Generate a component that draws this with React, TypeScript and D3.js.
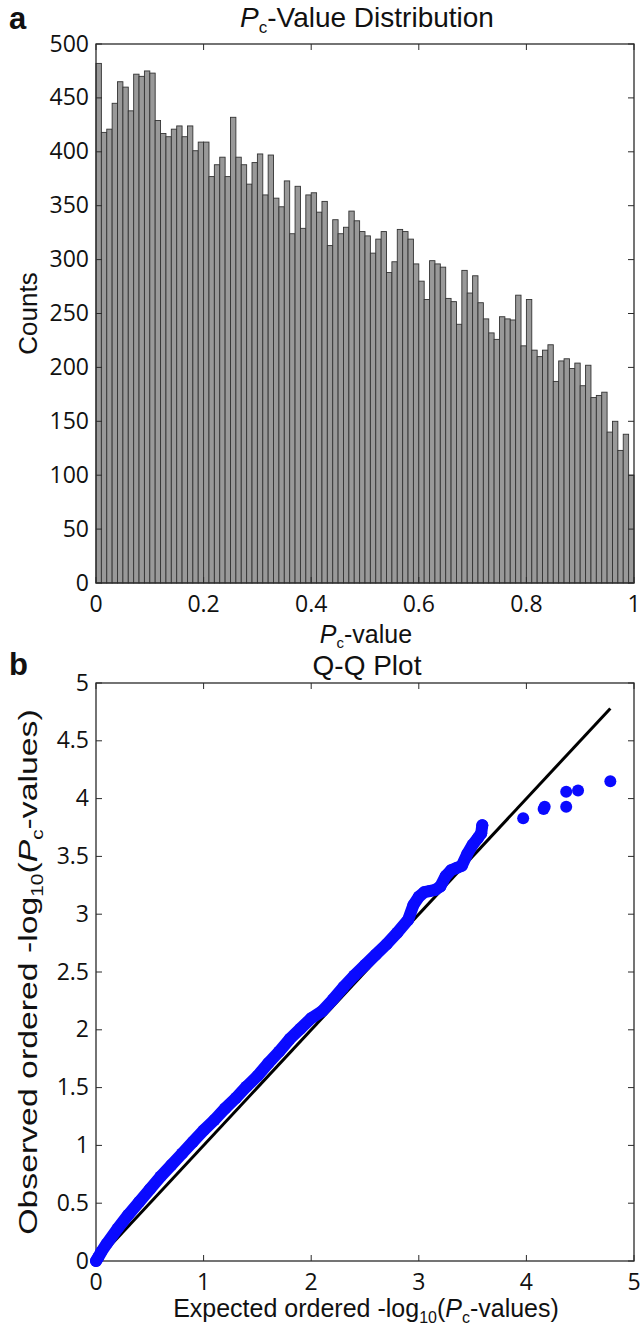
import React from 'react';
import * as d3 from 'd3';

// ---------- DATA ----------
const binCounts = [
  482, 418, 421, 445, 465, 460, 438, 472, 470, 475,
  473, 429, 417, 414, 421, 424, 414, 424, 401, 409,
  409, 377, 388, 395, 377, 432, 395, 388, 370, 390,
  398, 360, 397, 357, 349, 373, 324, 368, 329, 360,
  362, 344, 354, 313, 337, 324, 330, 345, 336, 326,
  322, 306, 319, 326, 288, 298, 328, 326, 319, 296,
  280, 263, 299, 296, 293, 264, 261, 240, 290, 269,
  285, 260, 245, 232, 226, 247, 245, 244, 267, 220,
  263, 216, 210, 216, 221, 187, 206, 208, 199, 204,
  183, 202, 172, 174, 177, 140, 150, 123, 138, 100,
];
const histYTicks = [0, 50, 100, 150, 200, 250, 300, 350, 400, 450, 500];
const histXTicks = [0, 0.2, 0.4, 0.6, 0.8, 1];
const histXLabels = ['0', '0.2', '0.4', '0.6', '0.8', '1'];

const qqExpected = [
  0, 0.02, 0.05, 0.1, 0.2, 0.3, 0.4, 0.5, 0.6, 0.7, 0.8, 0.9, 1.0,
  1.1, 1.2, 1.3, 1.4, 1.5, 1.6, 1.7, 1.8, 1.9, 2.0, 2.1, 2.2, 2.3,
  2.4, 2.5, 2.6, 2.7, 2.8, 2.9, 2.95, 3.0, 3.05, 3.1, 3.15, 3.2,
  3.25, 3.3, 3.35, 3.4, 3.45, 3.5, 3.55, 3.58, 3.59,
];
const qqObserved = [
  0, 0.03, 0.08, 0.15, 0.28, 0.4, 0.51, 0.62, 0.73, 0.83, 0.93, 1.03, 1.13,
  1.22, 1.32, 1.41, 1.51, 1.6, 1.71, 1.81, 1.92, 2.01, 2.1, 2.16, 2.26, 2.37,
  2.47, 2.56, 2.65, 2.74, 2.84, 2.95, 3.08, 3.15, 3.19, 3.2, 3.21, 3.24,
  3.33, 3.38, 3.4, 3.42, 3.52, 3.6, 3.66, 3.7, 3.77,
];
const qqTailExpected = [3.97, 4.16, 4.17, 4.37, 4.37, 4.48, 4.78];
const qqTailObserved = [3.83, 3.91, 3.93, 3.93, 4.06, 4.07, 4.15];
const refLineEnd = 4.78;
const qqYTicks = [0, 0.5, 1, 1.5, 2, 2.5, 3, 3.5, 4, 4.5, 5];
const qqYLabels = ['0', '0.5', '1', '1.5', '2', '2.5', '3', '3.5', '4', '4.5', '5'];
const qqXTicks = [0, 1, 2, 3, 4, 5];

// ---------- LAYOUT ----------
const W = 644;
const H = 1326;
const hL = 96, hR = 634, hT = 44, hB = 583;
const qL = 96, qR = 634, qT = 683, qB = 1261;
const TICK = 6;
const tickFont = '"Open Sans", sans-serif';
const labelFont = '"Liberation Sans", Arial, sans-serif';
const axisColor = '#2a2a2a';
const TICK_FS = 23;
const LABEL_FS = 25;
const TITLE_FS = 28;

export default function App() {
  const x1 = d3.scaleLinear().domain([0, 1]).range([hL, hR]);
  const y1 = d3.scaleLinear().domain([0, 500]).range([hB, hT]);
  const n = binCounts.length;

  const x2 = d3.scaleLinear().domain([0, 5]).range([qL, qR]);
  const y2 = d3.scaleLinear().domain([0, 5]).range([qB, qT]);

  const bandPts: [number, number][] = qqExpected.map((e, i) => [e, qqObserved[i]]);
  const bandLine = d3
    .line<[number, number]>()
    .x((d) => x2(d[0]))
    .y((d) => y2(d[1]))
    .curve(d3.curveLinear);

  return (
    <div style={{ position: 'absolute', left: 0, top: 0 }}>
      <svg width={W} height={H} viewBox={`0 0 ${W} ${H}`} style={{ display: 'block', background: '#fff' }}>
        {/* ===== Panel a ===== */}
        <text x={9} y={29} fontFamily={labelFont} fontWeight="bold" fontSize={31} fill="#111">a</text>
        <text x={367} y={27} textAnchor="middle" fontFamily={labelFont} fontSize={TITLE_FS} fill="#111">
          <tspan fontStyle="italic">P</tspan>
          <tspan fontSize={17} dy={6}>c</tspan>
          <tspan dy={-6}>-Value Distribution</tspan>
        </text>

        {binCounts.map((c, i) => (
          <rect
            key={i}
            x={x1(i / n)}
            y={y1(c)}
            width={x1((i + 1) / n) - x1(i / n)}
            height={y1(0) - y1(c)}
            fill="#999999"
            stroke="#333333"
            strokeWidth={0.9}
          />
        ))}

        <rect x={hL} y={hT} width={hR - hL} height={hB - hT} fill="none" stroke={axisColor} strokeWidth={1.3} />
        {histYTicks.map((t) => (
          <g key={'hy' + t}>
            <line x1={hL} x2={hL + TICK} y1={y1(t)} y2={y1(t)} stroke={axisColor} strokeWidth={1} />
            <line x1={hR} x2={hR - TICK} y1={y1(t)} y2={y1(t)} stroke={axisColor} strokeWidth={1} />
            <text x={hL - 7} y={y1(t)} dy="0.33em" textAnchor="end" fontFamily={tickFont} fontSize={TICK_FS} fill="#111">
              {t}
            </text>
          </g>
        ))}
        {histXTicks.map((t, i) => (
          <g key={'hx' + t}>
            <line x1={x1(t)} x2={x1(t)} y1={hB} y2={hB - TICK} stroke={axisColor} strokeWidth={1} />
            <line x1={x1(t)} x2={x1(t)} y1={hT} y2={hT + TICK} stroke={axisColor} strokeWidth={1} />
            <text x={x1(t)} y={hB + 29} textAnchor="middle" fontFamily={tickFont} fontSize={TICK_FS} fill="#111">
              {histXLabels[i]}
            </text>
          </g>
        ))}
        <text x={366} y={643} textAnchor="middle" fontFamily={labelFont} fontSize={LABEL_FS} fill="#111">
          <tspan fontStyle="italic">P</tspan>
          <tspan fontSize={15} dy={5}>c</tspan>
          <tspan dy={-5}>-value</tspan>
        </text>
        <text
          transform={`translate(37, ${(hT + hB) / 2}) rotate(-90)`}
          textAnchor="middle"
          fontFamily={labelFont}
          fontSize={26}
          fill="#111"
        >
          Counts
        </text>

        {/* ===== Panel b ===== */}
        <text x={9} y={675} fontFamily={labelFont} fontWeight="bold" fontSize={31} fill="#111">b</text>
        <text x={367} y={675} textAnchor="middle" fontFamily={labelFont} fontSize={TITLE_FS} fill="#111">Q-Q Plot</text>

        <rect x={qL} y={qT} width={qR - qL} height={qB - qT} fill="none" stroke={axisColor} strokeWidth={1.3} />
        {qqYTicks.map((t, i) => (
          <g key={'qy' + t}>
            <line x1={qL} x2={qL + TICK} y1={y2(t)} y2={y2(t)} stroke={axisColor} strokeWidth={1} />
            <line x1={qR} x2={qR - TICK} y1={y2(t)} y2={y2(t)} stroke={axisColor} strokeWidth={1} />
            <text x={qL - 7} y={y2(t)} dy="0.33em" textAnchor="end" fontFamily={tickFont} fontSize={TICK_FS} fill="#111">
              {qqYLabels[i]}
            </text>
          </g>
        ))}
        {qqXTicks.map((t) => (
          <g key={'qx' + t}>
            <line x1={x2(t)} x2={x2(t)} y1={qB} y2={qB - TICK} stroke={axisColor} strokeWidth={1} />
            <line x1={x2(t)} x2={x2(t)} y1={qT} y2={qT + TICK} stroke={axisColor} strokeWidth={1} />
            <text x={x2(t)} y={qB + 29} textAnchor="middle" fontFamily={tickFont} fontSize={TICK_FS} fill="#111">
              {t}
            </text>
          </g>
        ))}

        {/* reference line */}
        <line
          x1={x2(0)}
          y1={y2(0)}
          x2={x2(refLineEnd)}
          y2={y2(refLineEnd)}
          stroke="#000"
          strokeWidth={3}
        />

        {/* dense band of points */}
        <path d={bandLine(bandPts) || ''} fill="none" stroke="#0a0aff" strokeWidth={12} strokeLinejoin="round" strokeLinecap="round" />
        {bandPts.map((d, i) => (
          <circle key={'b' + i} cx={x2(d[0])} cy={y2(d[1])} r={6} fill="#0a0aff" />
        ))}
        {qqTailExpected.map((e, i) => (
          <circle key={'t' + i} cx={x2(e)} cy={y2(qqTailObserved[i])} r={6} fill="#0a0aff" />
        ))}

        <text x={366} y={1317} textAnchor="middle" fontFamily={labelFont} fontSize={LABEL_FS} fill="#111">
          Expected ordered -log
          <tspan fontSize={16} dy={6}>10</tspan>
          <tspan dy={-6}>(</tspan>
          <tspan fontStyle="italic">P</tspan>
          <tspan fontSize={16} dy={6}>c</tspan>
          <tspan dy={-6}>-values)</tspan>
        </text>
        <text
          transform={`translate(37, ${(qT + qB) / 2}) rotate(-90) scale(1.3, 1)`}
          textAnchor="middle"
          fontFamily={labelFont}
          fontSize={26}
          fill="#111"
        >
          Observed ordered -log
          <tspan fontSize={16} dy={6}>10</tspan>
          <tspan dy={-6}>(</tspan>
          <tspan fontStyle="italic">P</tspan>
          <tspan fontSize={16} dy={6}>c</tspan>
          <tspan dy={-6}>-values)</tspan>
        </text>
      </svg>
    </div>
  );
}
